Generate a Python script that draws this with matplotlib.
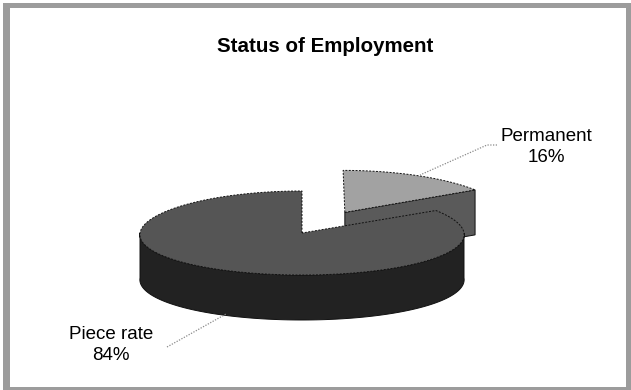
import numpy as np
import matplotlib
matplotlib.use('Agg')
import matplotlib.pyplot as plt
from matplotlib.patches import Polygon, Rectangle

plt.rcParams['font.family'] = ['Liberation Sans', 'DejaVu Sans']

title = 'Status of Employment'
labels = ['Piece rate', 'Permanent']
shares = [84, 16]
explode = [0.0, 0.56]

# pie layout in pixel space (y grows downward)
cx, cy = 302, 233
rx, ry = 162, 42
depth = 45
persp = 0.04
start = 90.0

top_cols = ['#555555', '#a2a2a2']
side_cols = ['#222222', '#5a5a5a']

fig = plt.figure(figsize=(6.31, 3.90), dpi=100)
ax = fig.add_axes([0, 0, 1, 1])
ax.set_xlim(0, 631)
ax.set_ylim(390, 0)
ax.axis('off')

# outer frame
ax.add_patch(Rectangle((3, 3), 628, 387, fc='#9c9c9c', ec='none', zorder=0))
ax.add_patch(Rectangle((10, 8), 616, 379, fc='white', ec='none', zorder=0))


def proj(X, Y, z=0.0):
    X = np.asarray(X, float)
    Y = np.asarray(Y, float)
    return np.column_stack([cx + X * rx * (1 - persp * Y), cy - Y * ry + z])


# slice angle ranges (counter-clockwise from the top)
spans = []
a = start
for s in shares:
    spans.append((a, a + 360.0 * s / 100.0))
    a += 360.0 * s / 100.0
# piece rate: 90 -> 392.4, permanent: 32.4 -> 90
spans[1] = (spans[1][0] - 360, spans[1][1] - 360)


def slice_parts(i):
    a0, a1 = spans[i]
    mid = np.radians((a0 + a1) / 2)
    ox, oy = explode[i] * np.cos(mid), explode[i] * np.sin(mid)
    t = np.radians(np.linspace(a0, a1, 200))
    X = ox + np.cos(t)
    Y = oy + np.sin(t)
    return a0, a1, ox, oy, t, X, Y


edge = dict(ec='#111111', lw=0.7)

# permanent slice (behind)
a0, a1, ox, oy, t, X, Y = slice_parts(1)
r0 = np.radians(a0)
cut = np.vstack([proj([ox, ox + np.cos(r0)], [oy, oy + np.sin(r0)]),
                 proj([ox + np.cos(r0), ox], [oy + np.sin(r0), oy], depth)])
ax.add_patch(Polygon(cut, closed=True, fc=side_cols[1], zorder=2, **edge))
top = np.vstack([proj([ox], [oy]), proj(X, Y)])
ax.add_patch(Polygon(top, closed=True, fc=top_cols[1], zorder=3,
                     ls=(0, (2, 1.5)), **edge))

# piece rate slice (front)
a0, a1, ox, oy, t, X, Y = slice_parts(0)
tf = np.radians(np.linspace(180, 360, 200))
side = np.vstack([proj(np.cos(tf), np.sin(tf)),
                  proj(np.cos(tf[::-1]), np.sin(tf[::-1]), depth)])
ax.add_patch(Polygon(side, closed=True, fc=side_cols[0], zorder=4, **edge))
top = np.vstack([proj([ox], [oy]), proj(X, Y)])
ax.add_patch(Polygon(top, closed=True, fc=top_cols[0], zorder=5,
                     ls=(0, (2, 1.5)), **edge))

# title and data labels
ax.text(325, 46, title, ha='center', va='center', fontsize=14.8,
        fontweight='bold', color='black')

lbl = dict(ha='center', va='center', fontsize=13.5, color='black',
           linespacing=1.35)
ax.text(546, 147, f'{labels[1]}\n{shares[1]}%', **lbl)
ax.text(111, 345, f'{labels[0]}\n{shares[0]}%', **lbl)

lead = dict(color='#8a8a8a', lw=0.9, ls=(0, (1, 1.2)), zorder=6)
ax.plot([497, 487, 420], [145, 145, 175], **lead)
ax.plot([167, 226], [347, 314], **lead)

fig.savefig('out.png', dpi=100)
